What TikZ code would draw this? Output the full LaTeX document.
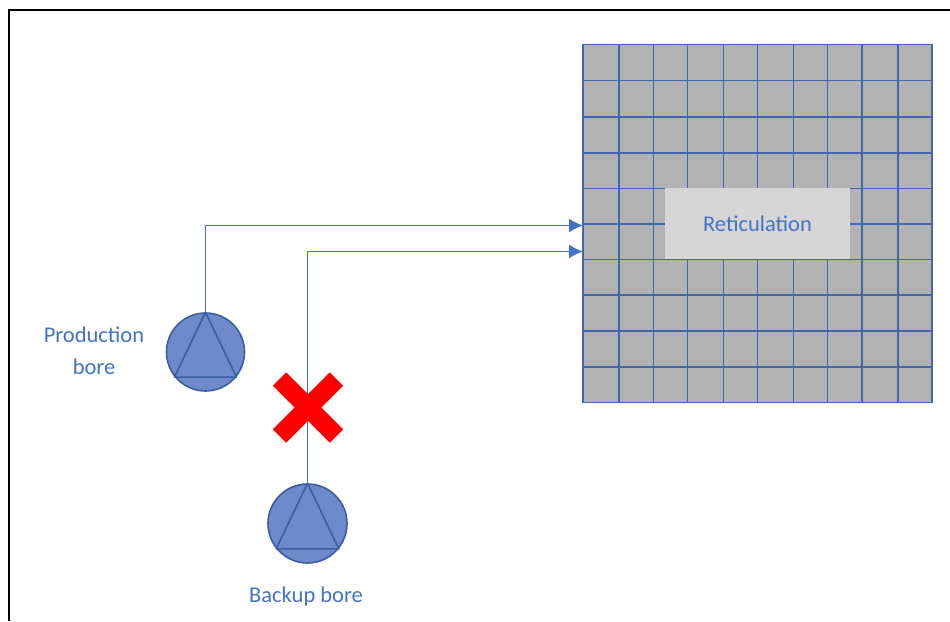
\documentclass[tikz,border=0pt]{standalone}
\usepackage{fontspec}
\setmainfont{Carlito}
\usetikzlibrary{arrows.meta,shapes.misc}
\definecolor{pipeblue}{HTML}{4472C4}
\definecolor{gridblue}{HTML}{3F66AF}
\definecolor{borefill}{HTML}{6E8ACA}
\definecolor{boreedge}{HTML}{3A5E9F}

\begin{document}
\begin{tikzpicture}[x=1pt,y=-1pt,
		bore/.style={circle, draw=boreedge, fill=borefill, line width=1.6pt, inner sep=0pt, minimum size=78pt},
		wedge/.style={draw=boreedge, line width=1.6pt, line join=round},
		label/.style={text=pipeblue, align=center, font=\fontsize{22.5}{32}\selectfont},
		pipe/.style={draw=pipeblue, line width=1.5pt, -{Latex[length=14pt,width=14pt]}},
	]
	\useasboundingbox (0,0) rectangle (950,621);
	\draw [line width=2.2pt] (9,621) |- (950,10);

	\node (grid) [fill=black!30, draw=gridblue, line width=1.8pt, minimum width=349pt, minimum height=358pt, inner sep=0pt] at (757.5,223.5) {};
	\foreach \x in {619,653.5,687.5,723.5,757.5,793.5,827.5,862,898}
		\draw [gridblue, line width=1.8pt] (\x,44.5) -- (\x,402.5);
	\foreach \y in {80.5,117,153,188.5,224,259.5,295,331,367}
		\draw [gridblue, line width=1.8pt] (583,\y) -- (932,\y);
	\node (reticulation) [fill=black!16, label, minimum width=185pt, minimum height=71pt, inner sep=0pt] at (757.5,223.5) {Reticulation};

	\node (production) [bore] at (205.5,352) {};
	\node (backup) [bore, minimum size=79pt] at (307.5,523.5) {};
	\draw [wedge] (production.north) -- (production.219) -- (production.-39) -- cycle;
	\draw [wedge] (backup.north) -- (backup.219) -- (backup.-39) -- cycle;

	\node (productionlabel) [label] at (94,351) {Production\\bore};
	\node (backuplabel) [label] at (306,596) {Backup bore};

	\coordinate (inflowa) at (583,225.5);
	\coordinate (inflowb) at (583,251.5);
	\draw [pipe] (production.north) |- (inflowa);
	\draw [pipe] (backup.north) |- (inflowb);

	\node (blocked) [cross out, draw=red, line width=19pt, inner sep=0pt, outer sep=0pt, minimum size=57pt] at (308,407.5) {};
\end{tikzpicture}
\end{document}
